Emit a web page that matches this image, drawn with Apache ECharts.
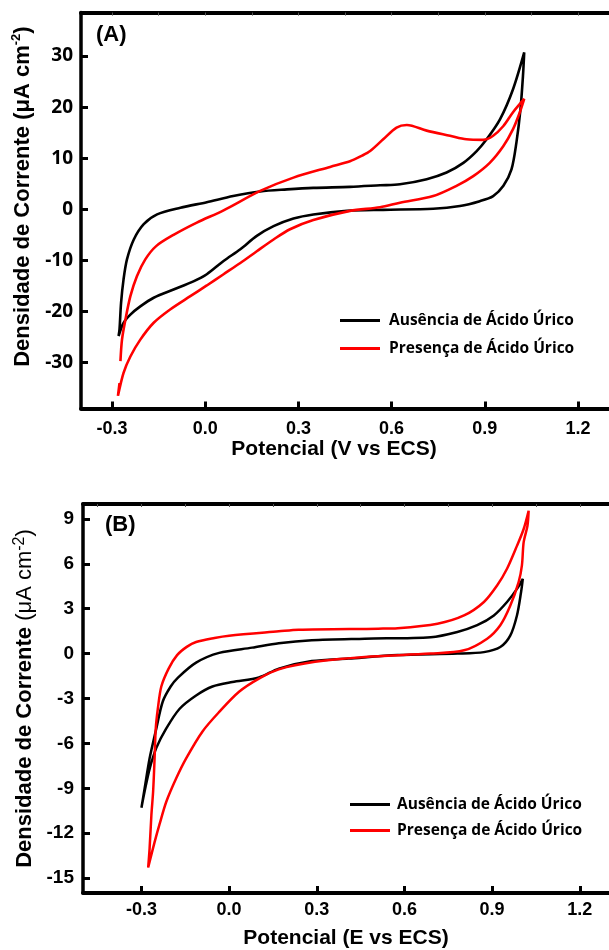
<!DOCTYPE html>
<html>
<head>
<meta charset="utf-8">
<script src="https://cdn.jsdelivr.net/npm/echarts@6/dist/echarts.min.js"></script>
<style>html,body{margin:0;padding:0;background:#fff}#c{width:609px;height:950px}</style>
</head>
<body>
<div id="c"></div>
<script>
// ---- Panel (A) data: potential (V vs ECS), current density (uA cm^-2)
const aAbsence = [
  [-0.279,-24.8],[-0.276,-23.5],[-0.271,-18.3],[-0.263,-13.7],[-0.252,-9.8],[-0.23,-5.9],[-0.198,-2.9],[-0.155,-1.0],
  [-0.08,0.3],[0.005,1.4],[0.09,2.6],[0.177,3.5],[0.263,3.9],[0.348,4.2],[0.466,4.4],[0.563,4.7],[0.627,4.9],
  [0.713,5.9],[0.777,7.2],[0.831,9.1],[0.874,11.4],[0.906,13.7],[0.949,17.6],[0.991,23.5],[1.027,30.7],
  [1.023,26.1],[1.015,19.6],[1.002,13.1],[0.986,7.8],[0.96,4.6],[0.927,2.6],[0.884,1.6],[0.82,0.65],[0.734,0.1],
  [0.573,-0.1],[0.456,-0.3],[0.348,-1.0],[0.284,-1.8],[0.22,-3.3],[0.166,-5.2],[0.113,-7.8],[0.059,-10.1],
  [0.005,-12.7],[-0.038,-14.1],[-0.102,-15.7],[-0.166,-17.3],[-0.209,-19.0],[-0.241,-20.6],[-0.263,-22.2],[-0.279,-24.8]
];
const aPresence = [
  [-0.273,-29.7],[-0.268,-25.5],[-0.257,-21.6],[-0.241,-17.0],[-0.22,-13.1],[-0.193,-9.8],[-0.158,-7.2],[-0.102,-5.0],
  [-0.027,-2.6],[0.059,-0.2],[0.177,3.6],[0.284,6.2],[0.402,8.3],[0.466,9.4],[0.505,10.5],[0.531,11.4],[0.573,13.7],
  [0.616,16.0],[0.649,16.5],[0.713,15.4],[0.788,14.4],[0.841,13.7],[0.895,13.6],[0.927,14.4],[0.96,16.3],[0.991,19.0],[1.027,21.6],
  [1.013,19.0],[0.991,15.7],[0.96,12.4],[0.916,9.1],[0.863,6.5],[0.809,4.6],[0.734,2.6],[0.627,1.3],[0.563,0.4],
  [0.466,-0.3],[0.348,-2.1],[0.273,-3.9],[0.22,-5.9],[0.166,-8.2],[0.113,-10.5],[0.059,-12.7],[0.005,-14.9],
  [-0.048,-17.0],[-0.113,-19.6],[-0.166,-22.2],[-0.209,-25.5],[-0.241,-28.8],[-0.263,-32.0],[-0.281,-36.5],[-0.276,-34.0]
];
// ---- Panel (B) data: potential (E vs ECS), current density (uA cm^-2)
const bAbsence = [
  [-0.3,-10.3],[-0.289,-9.0],[-0.272,-7.0],[-0.249,-5.0],[-0.227,-3.2],[-0.2,-2.2],[-0.175,-1.6],[-0.113,-0.6],
  [-0.034,0.05],[0.079,0.4],[0.17,0.7],[0.283,0.9],[0.464,1.0],[0.69,1.1],[0.781,1.45],[0.849,1.9],[0.906,2.55],
  [0.951,3.45],[0.985,4.33],[1.005,5.0],
  [0.999,4.1],[0.985,2.55],[0.962,1.2],[0.928,0.44],[0.872,0.1],[0.781,0.0],[0.577,-0.1],[0.408,-0.33],[0.283,-0.5],
  [0.17,-1.0],[0.102,-1.6],[0.011,-1.9],[-0.057,-2.2],[-0.113,-2.8],[-0.17,-3.7],[-0.215,-5.0],[-0.249,-6.3],
  [-0.272,-7.7],[-0.289,-9.2],[-0.3,-10.3]
];
const bPresence = [
  [-0.277,-14.3],[-0.272,-13.0],[-0.266,-10.8],[-0.26,-9.2],[-0.255,-7.0],[-0.251,-5.0],[-0.244,-3.7],[-0.232,-2.2],
  [-0.207,-1.0],[-0.178,-0.1],[-0.145,0.45],[-0.113,0.78],[-0.05,1.05],[0.0,1.2],[0.17,1.49],[0.238,1.6],[0.51,1.67],
  [0.577,1.7],[0.713,2.0],[0.804,2.55],[0.872,3.45],[0.917,4.55],[0.951,5.67],[0.985,7.2],[1.008,8.33],[1.025,9.55],
  [1.021,8.55],[1.008,7.45],[1.002,5.9],[0.991,4.8],[0.962,3.2],[0.928,1.9],[0.883,1.0],[0.804,0.22],[0.69,0.0],
  [0.464,-0.22],[0.294,-0.55],[0.17,-1.05],[0.102,-1.67],[0.034,-2.55],[-0.034,-3.9],[-0.091,-5.2],[-0.147,-7.0],
  [-0.181,-8.33],[-0.215,-9.9],[-0.238,-11.4],[-0.255,-12.6],[-0.272,-13.9],[-0.277,-14.3]
];
// ---- tick values
const xTicks = [-0.3, 0.0, 0.3, 0.6, 0.9, 1.2];
const xMinorTicks = [-0.45,-0.3,-0.15,0.0,0.15,0.3,0.45,0.6,0.75,0.9,1.05,1.2];
const aYTicks = [-30,-20,-10,0,10,20,30];
const bYTicks = [-15,-12,-9,-6,-3,0,3,6,9];
const nameAbs = 'Ausência de Ácido Úrico';
const namePres = 'Presença de Ácido Úrico';

const ARIAL = 'Liberation Sans, Arial, sans-serif';
const OPEN = 'Open Sans, sans-serif';

function bottomX(grid, min, max, labelFont, margin, name, nameGap, namePad) {
  return {
    type: 'value', gridIndex: grid, min: min, max: max, position: 'bottom',
    axisLine: { show: true, onZero: false, lineStyle: { color: '#000', width: 4 } },
    axisTick: { show: true, inside: true, length: 7, lineStyle: { color: '#000', width: 3 }, customValues: xTicks },
    axisLabel: { show: true, customValues: xTicks, margin: margin, color: '#000', fontFamily: labelFont, fontWeight: 'bold', fontSize: 18,
      formatter: v => v.toFixed(1) },
    splitLine: { show: false },
    name: name, nameLocation: 'middle', nameGap: nameGap,
    nameTextStyle: { color: '#000', fontFamily: ARIAL, fontWeight: 'bold', fontSize: 21, padding: namePad }
  };
}
function topX(grid, min, max) {
  return {
    type: 'value', gridIndex: grid, min: min, max: max, position: 'top',
    axisLine: { show: true, onZero: false, lineStyle: { color: '#000', width: 4 } },
    axisTick: { show: true, inside: true, length: 3, lineStyle: { color: '#555', width: 1 }, customValues: xMinorTicks },
    axisLabel: { show: false }, splitLine: { show: false }
  };
}

const option = {
  animation: false,
  backgroundColor: '#fff',
  grid: [
    { left: 81, top: 12.6, width: 529, height: 396 },
    { left: 83, top: 504, width: 530, height: 392.6 }
  ],
  xAxis: [
    bottomX(0, -0.4, 1.3, ARIAL, 11, 'Potencial (V vs ECS)', 25, [0, 22, 0, 0]),
    topX(0, -0.4, 1.3),
    bottomX(1, -0.5, 1.3, ARIAL, 8, 'Potencial (E vs ECS)', 35, 0),
    topX(1, -0.5, 1.3)
  ],
  yAxis: [
    {
      type: 'value', gridIndex: 0, min: -39, max: 38.5,
      axisLine: { show: true, onZero: false, lineStyle: { color: '#000', width: 3.5 } },
      axisTick: { show: true, inside: true, length: 7, lineStyle: { color: '#000', width: 3 }, customValues: aYTicks },
      axisLabel: { show: true, customValues: aYTicks, margin: 8, color: '#000', fontFamily: OPEN, fontWeight: 'bold', fontSize: 19 },
      splitLine: { show: false },
      name: '{b|Densidade de Corrente (μA cm}{s|-2}{b|)}',
      nameLocation: 'middle', nameRotate: 90, nameGap: 42,
      nameTextStyle: { padding: [0, 0, 0, 28], rich: {
        b: { color: '#000', fontFamily: ARIAL, fontWeight: 'bold', fontSize: 22, lineHeight: 26 },
        s: { color: '#000', fontFamily: ARIAL, fontWeight: 'bold', fontSize: 13, lineHeight: 14, verticalAlign: 'top' }
      } }
    },
    {
      type: 'value', gridIndex: 1, min: -16, max: 10,
      axisLine: { show: true, onZero: false, lineStyle: { color: '#000', width: 3.5 } },
      axisTick: { show: true, inside: true, length: 7, lineStyle: { color: '#000', width: 3 }, customValues: bYTicks },
      axisLabel: { show: true, customValues: bYTicks, margin: 9, color: '#000', fontFamily: ARIAL, fontWeight: 'bold', fontSize: 19 },
      splitLine: { show: false },
      name: '{b|Densidade de Corrente }{r|(μA cm}{s|-2}{r|)}',
      nameLocation: 'middle', nameRotate: 90, nameGap: 44,
      nameTextStyle: { rich: {
        b: { color: '#000', fontFamily: ARIAL, fontWeight: 'bold', fontSize: 22, lineHeight: 26 },
        r: { color: '#000', fontFamily: ARIAL, fontWeight: 'normal', fontSize: 22, lineHeight: 26 },
        s: { color: '#000', fontFamily: ARIAL, fontWeight: 'normal', fontSize: 16, lineHeight: 16, verticalAlign: 'top' }
      } }
    },
    {
      type: 'value', gridIndex: 0, min: -39, max: 38.5, position: 'right',
      axisLine: { show: true, onZero: false, lineStyle: { color: '#888', width: 1 } },
      axisTick: { show: false }, axisLabel: { show: false }, splitLine: { show: false }
    }
  ],
  legend: [
    { data: [nameAbs, namePres], left: 335, top: 305, orient: 'vertical', itemWidth: 40, itemHeight: 3, itemGap: 7,
      icon: 'rect', selectedMode: false,
      textStyle: { color: '#000', fontFamily: OPEN, fontWeight: 'bold', fontSize: 15.5, lineHeight: 21, padding: [0, 0, 0, 4] } },
    { data: [nameAbs, namePres], left: 345, top: 789, orient: 'vertical', itemWidth: 40, itemHeight: 3, itemGap: 5,
      icon: 'rect', selectedMode: false,
      textStyle: { color: '#000', fontFamily: OPEN, fontWeight: 'bold', fontSize: 15.5, lineHeight: 21, padding: [0, 0, 0, 2] } }
  ],
  graphic: [
    { type: 'text', left: 96, top: 24, style: { text: '(A)', fill: '#000', font: 'bold 22px Liberation Sans, Arial, sans-serif' } },
    { type: 'text', left: 105, top: 514, style: { text: '(B)', fill: '#000', font: 'bold 22px Liberation Sans, Arial, sans-serif' } }
  ],
  series: [
    { name: nameAbs, type: 'line', xAxisIndex: 0, yAxisIndex: 0, data: aAbsence, showSymbol: false, smooth: 0.3,
      color: '#000', lineStyle: { color: '#000', width: 2.6 } },
    { name: namePres, type: 'line', xAxisIndex: 0, yAxisIndex: 0, data: aPresence, showSymbol: false, smooth: 0.3,
      color: '#ff0000', lineStyle: { color: '#ff0000', width: 2.6 } },
    { name: nameAbs, type: 'line', xAxisIndex: 2, yAxisIndex: 1, data: bAbsence, showSymbol: false, smooth: 0.3,
      color: '#000', lineStyle: { color: '#000', width: 2.5 } },
    { name: namePres, type: 'line', xAxisIndex: 2, yAxisIndex: 1, data: bPresence, showSymbol: false, smooth: 0.3,
      color: '#ff0000', lineStyle: { color: '#ff0000', width: 2.5 } }
  ]
};
const chart = echarts.init(document.getElementById('c'), null, { renderer: 'canvas' });
chart.setOption(option);
</script>
</body>
</html>
